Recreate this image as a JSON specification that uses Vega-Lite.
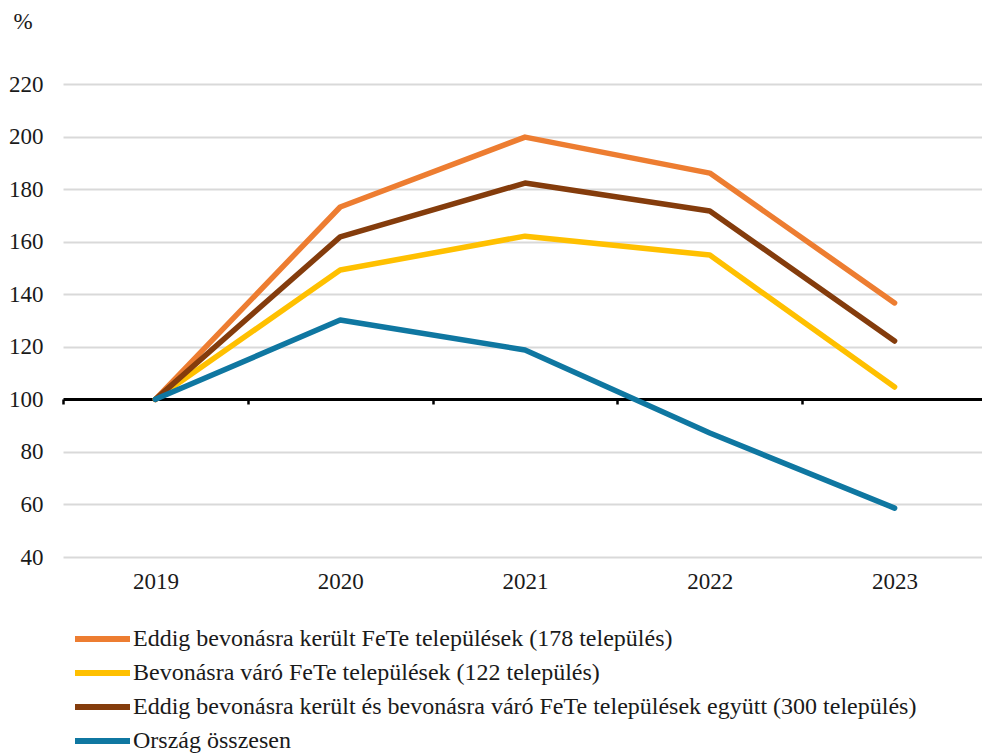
{
  "$schema": "https://vega.github.io/schema/vega-lite/v6.json",
  "width": 924,
  "height": 473,
  "padding": {"left": 8, "top": 10, "right": 0, "bottom": 0},
  "background": "white",
  "config": {
    "view": {"stroke": null},
    "font": "Liberation Serif"
  },
  "data": {
    "values": [
      {"year": "2019", "series": "Eddig bevonásra került FeTe települések (178 település)", "value": 100},
      {"year": "2020", "series": "Eddig bevonásra került FeTe települések (178 település)", "value": 173.2},
      {"year": "2021", "series": "Eddig bevonásra került FeTe települések (178 település)", "value": 199.8},
      {"year": "2022", "series": "Eddig bevonásra került FeTe települések (178 település)", "value": 186.1},
      {"year": "2023", "series": "Eddig bevonásra került FeTe települések (178 település)", "value": 136.7},
      {"year": "2019", "series": "Bevonásra váró FeTe települések (122 település)", "value": 100},
      {"year": "2020", "series": "Bevonásra váró FeTe települések (122 település)", "value": 149.2},
      {"year": "2021", "series": "Bevonásra váró FeTe települések (122 település)", "value": 162.1},
      {"year": "2022", "series": "Bevonásra váró FeTe települések (122 település)", "value": 154.9},
      {"year": "2023", "series": "Bevonásra váró FeTe települések (122 település)", "value": 104.7},
      {"year": "2019", "series": "Eddig bevonásra került és bevonásra váró FeTe települések együtt (300 település)", "value": 100},
      {"year": "2020", "series": "Eddig bevonásra került és bevonásra váró FeTe települések együtt (300 település)", "value": 161.8},
      {"year": "2021", "series": "Eddig bevonásra került és bevonásra váró FeTe települések együtt (300 település)", "value": 182.3},
      {"year": "2022", "series": "Eddig bevonásra került és bevonásra váró FeTe települések együtt (300 település)", "value": 171.7},
      {"year": "2023", "series": "Eddig bevonásra került és bevonásra váró FeTe települések együtt (300 település)", "value": 122.2},
      {"year": "2019", "series": "Ország összesen", "value": 100},
      {"year": "2020", "series": "Ország összesen", "value": 130.2},
      {"year": "2021", "series": "Ország összesen", "value": 118.8},
      {"year": "2022", "series": "Ország összesen", "value": 87.2},
      {"year": "2023", "series": "Ország összesen", "value": 58.6}
    ]
  },
  "mark": {"type": "line", "strokeWidth": 5.5, "strokeCap": "round", "strokeJoin": "round"},
  "encoding": {
    "x": {
      "field": "year",
      "type": "nominal",
      "sort": null,
      "scale": {"type": "band", "paddingInner": 0, "paddingOuter": 0},
      "axis": {
        "title": null,
        "orient": "bottom",
        "offset": -158,
        "domain": false,
        "grid": false,
        "ticks": true,
        "tickBand": "extent",
        "tickSize": 5,
        "tickWidth": 2.5,
        "tickColor": "black",
        "labelAngle": 0,
        "labelFont": "Liberation Serif",
        "labelFontSize": 23,
        "labelColor": "#1a1a1a",
        "labelPadding": 166
      }
    },
    "y": {
      "field": "value",
      "type": "quantitative",
      "scale": {"domain": [40, 220], "nice": false, "zero": false},
      "axis": {
        "values": [40, 60, 80, 100, 120, 140, 160, 180, 200, 220],
        "domain": false,
        "ticks": false,
        "grid": true,
        "gridColor": {"condition": {"test": "datum.value === 100", "value": "black"}, "value": "#d9d9d9"},
        "gridWidth": {"condition": {"test": "datum.value === 100", "value": 3}, "value": 2},
        "labelFont": "Liberation Serif",
        "labelFontSize": 23,
        "labelColor": "#1a1a1a",
        "labelPadding": 20,
        "title": "%",
        "titleFont": "Liberation Serif",
        "titleAngle": 0,
        "titleAlign": "left",
        "titleBaseline": "middle",
        "titleFontSize": 23,
        "titleFontWeight": "normal",
        "titleColor": "#1a1a1a",
        "titleX": -50,
        "titleY": -63
      }
    },
    "color": {
      "field": "series",
      "type": "nominal",
      "sort": null,
      "scale": {
        "domain": [
          "Eddig bevonásra került FeTe települések (178 település)",
          "Bevonásra váró FeTe települések (122 település)",
          "Eddig bevonásra került és bevonásra váró FeTe települések együtt (300 település)",
          "Ország összesen"
        ],
        "range": ["#ED7D31", "#FFC000", "#843C0C", "#0F77A1"]
      },
      "legend": {
        "title": null,
        "orient": "none",
        "legendX": 9,
        "legendY": 543,
        "direction": "vertical",
        "columns": 1,
        "symbolType": "stroke",
        "symbolSize": 3025,
        "symbolStrokeWidth": 6,
        "labelFont": "Liberation Serif",
        "labelFontSize": 24,
        "labelColor": "#1a1a1a",
        "labelLimit": 0,
        "labelOffset": 0,
        "clipHeight": 24,
        "rowPadding": 10
      }
    }
  }
}
